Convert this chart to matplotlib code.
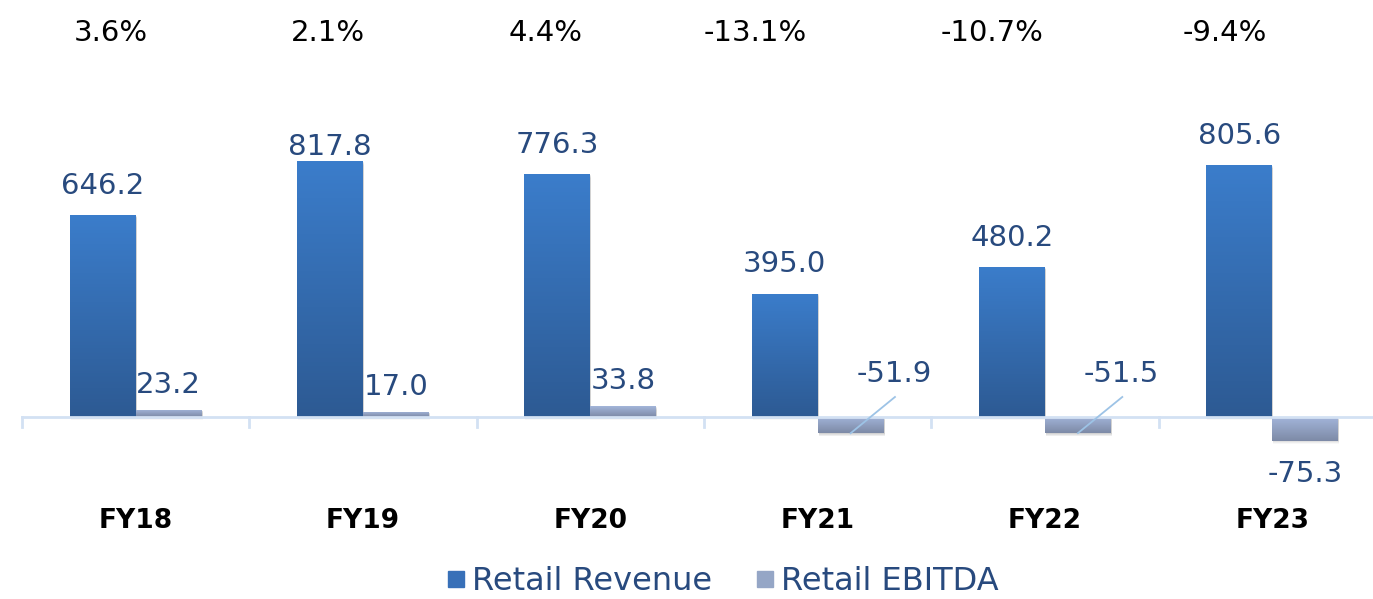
import numpy as np
import matplotlib
matplotlib.use("Agg")
import matplotlib.pyplot as plt
import matplotlib.transforms as mtransforms
from matplotlib.lines import Line2D

plt.rcParams['font.family'] = ['DejaVu Sans']

years = ['FY18', 'FY19', 'FY20', 'FY21', 'FY22', 'FY23']
revenue = [646.2, 817.8, 776.3, 395.0, 480.2, 805.6]
ebitda = [23.2, 17.0, 33.8, -51.9, -51.5, -75.3]
margin = ['3.6%', '2.1%', '4.4%', '-13.1%', '-10.7%', '-9.4%']

# layout tweaks for the labels (category units / points)
margin_dx = [-0.11, -0.155, -0.195, -0.275, -0.235, -0.21]
rev_pad = [11, 0, 11, 11, 11, 11]

label_col = '#284a7e'
axis_col = '#d3e1f3'

fig = plt.figure(figsize=(13.73, 5.99), dpi=100)
W, H = 1373, 599
ax = fig.add_axes([22 / W, (H - 460) / H, 1364 / W, 360 / H])
ax.set_xlim(-0.5, 5.5)
ax.set_ylim(-137.6, 1014.1)
ax.axis('off')

x = np.arange(len(years))
bw = 0.29
off = 0.145


def gradient_bars(xs, vals, top_col, bot_col):
    bars = ax.bar(xs, vals, width=bw, color='none', zorder=2)
    grad = np.linspace(0, 1, 256).reshape(-1, 1)
    cmap = matplotlib.colors.LinearSegmentedColormap.from_list('g', [bot_col, top_col])
    for b, v in zip(bars, vals):
        x0 = b.get_x()
        lo, hi = min(0, v), max(0, v)
        # soft drop shadow under each bar
        for k, a in enumerate([0.10, 0.08, 0.06, 0.04]):
            sh = plt.Rectangle((x0 + 0.004, lo - 3 - k * 2.5), bw, hi - lo,
                               color='#555555', alpha=a, lw=0, zorder=1)
            ax.add_patch(sh)
        im = ax.imshow(grad, extent=[x0, x0 + bw, lo, hi], origin='lower',
                       cmap=cmap, aspect='auto', zorder=3)
        rect = plt.Rectangle((x0, lo), bw, hi - lo, transform=ax.transData)
        im.set_clip_path(rect)
    return bars


gradient_bars(x - off, revenue, '#3b7dcb', '#2d5a93')
gradient_bars(x + off, ebitda, '#a3b5da', '#7d8aa6')

# category axis line and boundary ticks
ax.plot([-0.5, 5.5], [0, 0], color=axis_col, lw=2, zorder=4, clip_on=False)
for b in np.arange(-0.5, 6.0, 1.0):
    ax.plot([b, b], [0, -33], color=axis_col, lw=2, zorder=4, clip_on=False)

fs = 21
for xi, v, p in zip(x - off, revenue, rev_pad):
    ax.annotate(f'{v:.1f}', (xi, v), xytext=(0, p), textcoords='offset points',
                ha='center', va='bottom', fontsize=fs, color=label_col)

for i, (xi, v) in enumerate(zip(x + off, ebitda)):
    if v >= 0:
        ax.annotate(f'{v:.1f}', (xi, v), xytext=(0, 8), textcoords='offset points',
                    ha='center', va='bottom', fontsize=fs, color=label_col)
    elif i < 5:
        # label lifted above the axis with a leader line back to the bar
        ax.plot([xi, xi + 0.195], [v, 64], color='#9dc3e6', lw=1.3, zorder=5)
        ax.text(xi + 0.19, 94, f'{v:.1f}', ha='center', va='bottom',
                fontsize=fs, color=label_col, zorder=5)
    else:
        ax.annotate(f'{v:.1f}', (xi, v), xytext=(0, -14), textcoords='offset points',
                    ha='center', va='top', fontsize=fs, color=label_col)

top_tr = mtransforms.blended_transform_factory(ax.transData, fig.transFigure)
for xi, m, dx in zip(x, margin, margin_dx):
    ax.text(xi + dx, 1 - 33 / H, m, transform=top_tr, ha='center', va='center',
            fontsize=fs, color='black', clip_on=False)

for xi, yr in zip(x, years):
    ax.text(xi, 1 - 521 / H, yr, transform=top_tr, ha='center', va='center',
            fontsize=19, fontweight='bold', color='black', clip_on=False)

handles = [Line2D([], [], marker='s', ls='none', markersize=12, color='#3870b8'),
           Line2D([], [], marker='s', ls='none', markersize=12, color='#95a6c6')]
fig.legend(handles, ['Retail Revenue', 'Retail EBITDA'], loc='center',
           bbox_to_anchor=(722 / W, 1 - 582 / H), ncol=2, frameon=False,
           fontsize=23, labelcolor=label_col, handletextpad=0.15,
           columnspacing=1.3, handlelength=0.7)

fig.savefig('out.png', dpi=100)
